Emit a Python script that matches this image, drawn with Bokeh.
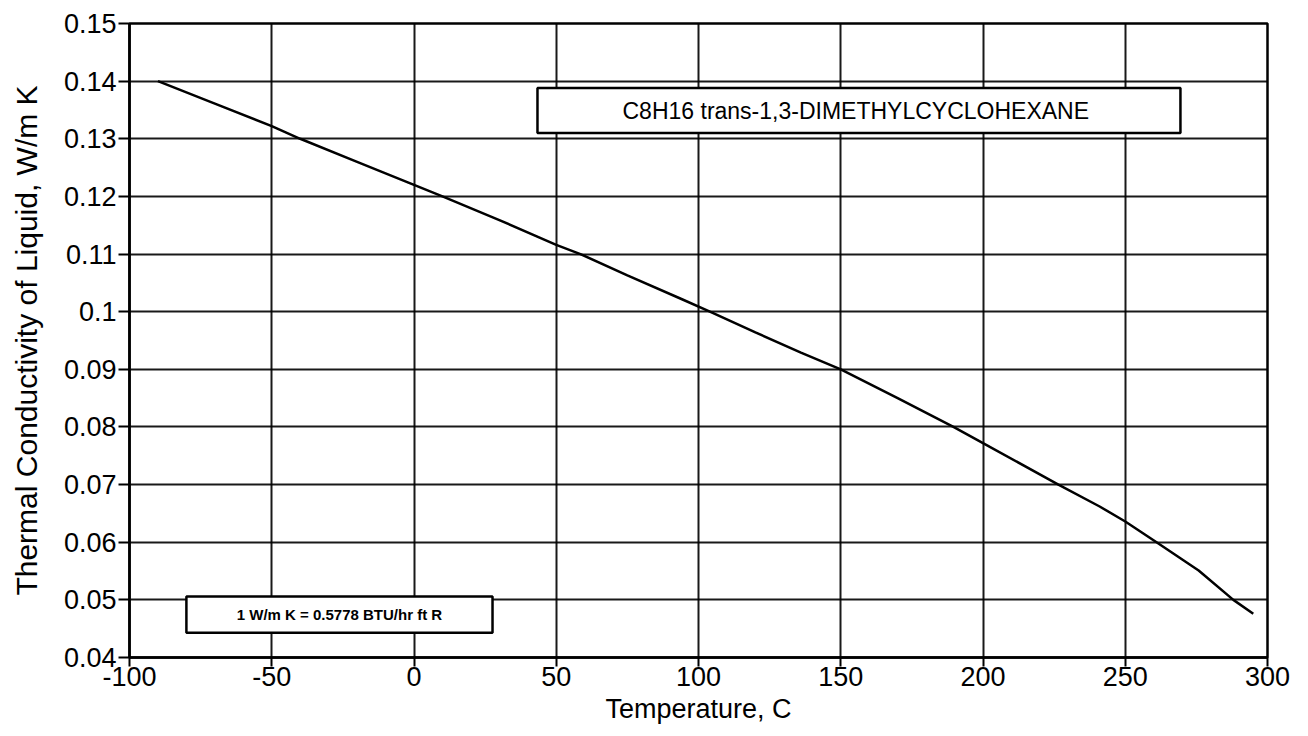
from bokeh.plotting import figure
from bokeh.models import FixedTicker, BoxAnnotation, Label, Range1d
from bokeh.embed import file_html
from bokeh.resources import INLINE

# data
temp_c = [-90, -70, -50, -40, -20, 0, 10, 30, 50, 58.5, 75, 94, 104, 120, 136, 150, 170, 189.6, 200, 226.5, 241, 250, 261, 275.8, 288, 295]
k_liq = [0.1400, 0.1361, 0.1322, 0.1300, 0.1260, 0.1220, 0.1200, 0.1159, 0.1116, 0.1100, 0.1063, 0.1022, 0.1000, 0.0964, 0.0929, 0.0900, 0.0850, 0.0800, 0.0772, 0.0700, 0.0662, 0.0636, 0.0600, 0.0551, 0.0500, 0.0476]

x_ticks = [-100, -50, 0, 50, 100, 150, 200, 250, 300]
y_ticks = [0.04, 0.05, 0.06, 0.07, 0.08, 0.09, 0.10, 0.11, 0.12, 0.13, 0.14, 0.15]
y_tick_labels = ["0.04", "0.05", "0.06", "0.07", "0.08", "0.09", "0.1", "0.11", "0.12", "0.13", "0.14", "0.15"]

title_text = "C8H16  trans-1,3-DIMETHYLCYCLOHEXANE"
note_text = "1 W/m K = 0.5778 BTU/hr ft R"

FONT = "Liberation Sans"

p = figure(width=1300, height=728, output_backend="svg", toolbar_location=None,
           x_range=Range1d(-100, 300), y_range=Range1d(0.04, 0.15),
           min_border_left=129, min_border_right=33, min_border_top=23, min_border_bottom=71)
p.outline_line_color = "black"
p.outline_line_width = 2.5
p.background_fill_color = "white"
p.border_fill_color = "white"

p.xaxis.ticker = FixedTicker(ticks=x_ticks)
p.yaxis.ticker = FixedTicker(ticks=y_ticks)
p.yaxis.major_label_overrides = {t: l for t, l in zip(y_ticks, y_tick_labels)}
p.xaxis.major_label_overrides = {t: str(t) for t in x_ticks}

for ax in (p.xaxis[0], p.yaxis[0]):
    ax.axis_line_color = "black"
    ax.axis_line_width = 2.5
    ax.major_tick_line_color = "black"
    ax.major_tick_line_width = 2
    ax.major_tick_in = 0
    ax.minor_tick_line_color = None
    ax.major_label_text_font = FONT
    ax.major_label_text_font_size = "27px"
    ax.major_label_text_color = "black"
    ax.axis_label_text_font = FONT
    ax.axis_label_text_font_style = "normal"
    ax.axis_label_text_color = "black"

p.xaxis.axis_label_text_font_size = "27px"
p.yaxis.axis_label_text_font_size = "30px"
p.xaxis.major_tick_out = 9
p.yaxis.major_tick_out = 11
p.xaxis.axis_label = "Temperature, C"
p.yaxis.axis_label = "Thermal Conductivity of Liquid, W/m K"
p.xaxis.major_label_standoff = 0
p.yaxis.major_label_standoff = 2
p.xaxis.axis_label_standoff = 5
p.yaxis.axis_label_standoff = 18

p.xgrid.grid_line_color = "black"
p.ygrid.grid_line_color = "black"
p.xgrid.grid_line_width = 2
p.ygrid.grid_line_width = 2
p.xgrid.grid_line_alpha = 0.9
p.ygrid.grid_line_alpha = 0.9

p.line(temp_c, k_liq, line_color="black", line_width=2.5)

title_box = BoxAnnotation(left=43.4, right=269.4, bottom=0.1310, top=0.1388,
                          fill_color="white", fill_alpha=1.0,
                          line_color="black", line_alpha=1.0, line_width=2.5)
p.add_layout(title_box)
p.add_layout(Label(x=156.4, y=0.1349, text=title_text, text_font=FONT, text_font_size="23px",
                   text_align="center", text_baseline="middle", text_color="black"))

note_box = BoxAnnotation(left=-80, right=27.6, bottom=0.0443, top=0.0506,
                         fill_color="white", fill_alpha=1.0,
                         line_color="black", line_alpha=1.0, line_width=2.5)
p.add_layout(note_box)
p.add_layout(Label(x=-26.2, y=0.04745, text=note_text, text_font=FONT, text_font_size="15px",
                   text_font_style="bold", text_align="center", text_baseline="middle", text_color="black"))

open("out.html", "w").write(file_html(p, INLINE))
